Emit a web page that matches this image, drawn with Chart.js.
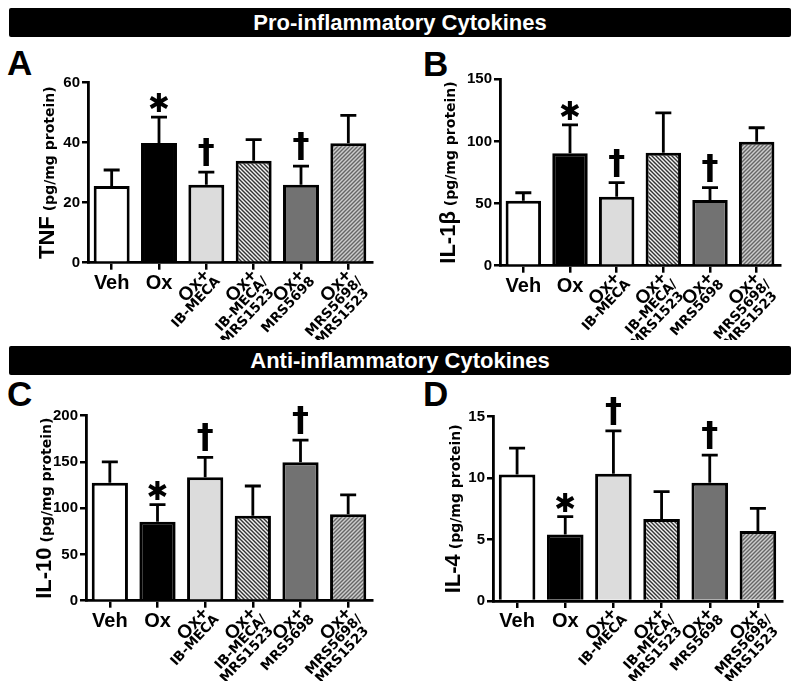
<!DOCTYPE html>
<html>
<head>
<meta charset="utf-8">
<script src="https://cdn.jsdelivr.net/npm/chart.js@4.4.0/dist/chart.umd.min.js"></script>
<style>
  body { margin: 0; background: #fff; width: 800px; height: 681px; position: relative; overflow: hidden;
         font-family: "Liberation Sans", Arial, sans-serif; }
  .band { position: absolute; left: 9px; width: 782px; height: 29px; background: #000; color: #fff;
          font-weight: bold; font-size: 22px; line-height: 29px; text-align: center; border-radius: 2px; }
  .letter { position: absolute; font-weight: bold; font-size: 35px; line-height: 34px; }
  canvas { position: absolute; }
</style>
</head>
<body>
<div class="band" style="top:8px">Pro-inflammatory Cytokines</div>
<div class="band" style="top:346px">Anti-inflammatory Cytokines</div>
<div class="letter" style="left:7px;top:46px">A</div>
<div class="letter" style="left:423px;top:47px">B</div>
<div class="letter" style="left:7px;top:377px">C</div>
<div class="letter" style="left:423px;top:377px">D</div>
<canvas id="cA" width="400" height="300" style="left:0;top:40px"></canvas>
<canvas id="cB" width="400" height="300" style="left:400px;top:40px"></canvas>
<canvas id="cC" width="400" height="306" style="left:0;top:375px"></canvas>
<canvas id="cD" width="400" height="306" style="left:400px;top:375px"></canvas>
<script>
// groups
const groupLabels = ["Veh", "Ox", "Ox+", "Ox+", "Ox+", "Ox+"];
const groupSubLabels = [[], [], ["IB-MECA"], ["IB-MECA/", "MRS1523"], ["MRS5698"], ["MRS5698/", "MRS1523"]];

// TNF
const tnfMean = [25.6, 39.9, 26.0, 34.0, 26.0, 39.8];
const tnfSem = [5.3, 8.6, 4.2, 7.0, 6.2, 9.3];
const tnfSig = ["", "*", "†", "", "†", ""];
const tnfTicks = [0, 20, 40, 60];

// IL-1b
const il1bMean = [52.3, 90.4, 55.5, 90.9, 52.9, 99.8];
const il1bSem = [6.4, 23.0, 11.3, 32.1, 9.9, 11.2];
const il1bSig = ["", "*", "†", "", "†", ""];
const il1bTicks = [0, 50, 100, 150];

// IL-10
const il10Mean = [127.6, 85.4, 133.4, 91.9, 149.6, 93.4];
const il10Sem = [22.4, 18.4, 21.6, 32.1, 24.1, 20.9];
const il10Sig = ["", "*", "†", "", "†", ""];
const il10Ticks = [0, 50, 100, 150, 200];

// IL-4
const il4Mean = [10.3, 5.42, 10.36, 6.67, 9.63, 5.7];
const il4Sem = [2.15, 1.44, 3.49, 2.23, 2.25, 1.84];
const il4Sig = ["", "*", "†", "", "†", ""];
const il4Ticks = [0, 5, 10, 15];

const unitText = "(pg/mg protein)";
const SANS = '"Liberation Sans", Arial, sans-serif';
const DEJA = '"DejaVu Sans", sans-serif';

function makeHatch(bg, fg, slash) {
  const c = document.createElement('canvas');
  c.width = 4; c.height = 4;
  const g = c.getContext('2d');
  g.fillStyle = bg;
  g.fillRect(0, 0, 4, 4);
  g.strokeStyle = fg;
  g.lineWidth = 1.4;
  g.beginPath();
  if (slash) {
    g.moveTo(-1, 5); g.lineTo(5, -1);
    g.moveTo(-1, 1); g.lineTo(1, -1);
    g.moveTo(3, 5); g.lineTo(5, 3);
  } else {
    g.moveTo(-1, -1); g.lineTo(5, 5);
    g.moveTo(3, -1); g.lineTo(5, 1);
    g.moveTo(-1, 3); g.lineTo(1, 5);
  }
  g.stroke();
  return g.createPattern(c, 'repeat');
}

const fills = ["#ffffff", "#000000", "#dcdcdc", makeHatch("#f2f2f2", "#333333", false),
               "#727272", makeHatch("#cccccc", "#666666", true)];

function makePanel(p) {
  const canvas = document.getElementById(p.id);
  const H = canvas.height;

  const decor = {
    id: 'decor',
    afterDatasetsDraw(chart) {
      const xs = chart.scales.x, ys = chart.scales.y, ctx = chart.ctx;
      ctx.save();
      ctx.strokeStyle = '#000';
      ctx.fillStyle = '#000';
      ctx.lineWidth = 2.8;
      p.mean.forEach((m, i) => {
        const x = xs.getPixelForValue(i);
        const y0 = ys.getPixelForValue(m);
        const y1 = ys.getPixelForValue(m + p.sem[i]);
        ctx.beginPath();
        ctx.moveTo(x, y0); ctx.lineTo(x, y1);
        ctx.moveTo(x - 8, y1); ctx.lineTo(x + 8, y1);
        ctx.stroke();
        const s = p.sig[i];
        if (s) {
          const sym = s === "*" ? "✱" : "†";
          ctx.font = s === "*" ? '26px ' + DEJA : 'bold 34px ' + DEJA;
          ctx.textAlign = 'center';
          ctx.textBaseline = 'alphabetic';
          const mt = ctx.measureText(sym);
          ctx.fillText(sym, x, y1 - (s === "*" ? 5 : 6) - mt.actualBoundingBoxDescent);
        }
      });
      ctx.restore();
    },
    afterDraw(chart) {
      const xs = chart.scales.x, ctx = chart.ctx, area = chart.chartArea;
      const axisY = area.bottom;
      ctx.save();
      ctx.fillStyle = '#000';
      groupLabels.forEach((lab, i) => {
        const x = xs.getPixelForValue(i);
        const subs = groupSubLabels[i];
        if (!subs.length) {
          ctx.font = 'bold 20px ' + SANS;
          ctx.textAlign = 'center';
          ctx.textBaseline = 'alphabetic';
          ctx.fillText(lab, x, axisY + 26);
        } else {
          ctx.save();
          ctx.translate(x - 6, axisY + 4);
          ctx.rotate(-47 * Math.PI / 180);
          ctx.textAlign = 'right';
          ctx.textBaseline = 'alphabetic';
          ctx.font = 'bold 19px ' + SANS;
          ctx.fillText(lab, 0, 14);
          ctx.font = 'bold 13.5px ' + DEJA;
          subs.forEach((s, k) => ctx.fillText(s, k ? -1 : 3, 25 + k * 13));
          ctx.restore();
        }
      });
      // y axis title
      ctx.translate(p.titleX, (area.top + area.bottom) / 2);
      ctx.rotate(-Math.PI / 2);
      ctx.textAlign = 'left';
      ctx.textBaseline = 'alphabetic';
      ctx.font = 'bold 22px ' + SANS;
      const w1 = ctx.measureText(p.title).width;
      ctx.font = 'bold 14px ' + DEJA;
      const w2 = ctx.measureText(unitText).width;
      const gap = 5;
      const start = -(w1 + gap + w2) / 2;
      ctx.font = 'bold 22px ' + SANS;
      ctx.fillText(p.title, start, 0);
      ctx.font = 'bold 14px ' + DEJA;
      ctx.fillText(unitText, start + w1 + gap, 0);
      ctx.restore();
    }
  };

  return new Chart(canvas, {
    type: 'bar',
    data: {
      labels: groupLabels,
      datasets: [{
        data: p.mean,
        backgroundColor: fills,
        borderColor: '#000',
        borderWidth: 3,
        borderSkipped: 'start',
        barPercentage: 0.76,
        categoryPercentage: 1
      }]
    },
    options: {
      responsive: false,
      animation: false,
      layout: { padding: { left: 0, top: p.top, right: p.right, bottom: 0 } },
      plugins: { legend: { display: false }, tooltip: { enabled: false } },
      scales: {
        x: {
          z: 1,
          grid: { display: true, drawOnChartArea: false, drawTicks: true, tickLength: 7,
                  color: '#000', lineWidth: 2.5, offset: false },
          border: { display: true, color: '#000', width: 2.8 },
          ticks: { display: false },
          afterFit(s) { s.height = H - p.bottom; }
        },
        y: {
          z: 1,
          min: p.ticks[0],
          max: p.ticks[p.ticks.length - 1],
          afterBuildTicks(s) { s.ticks = p.ticks.map(v => ({ value: v })); },
          grid: { display: true, drawOnChartArea: false, drawTicks: true, tickLength: 6,
                  color: '#000', lineWidth: 2.5 },
          border: { display: true, color: '#000', width: 2.8 },
          ticks: { color: '#000', padding: 2, font: { family: SANS, weight: 'bold', size: 15 } },
          afterFit(s) { s.width = p.left; }
        }
      }
    },
    plugins: [decor]
  });
}

makePanel({ id: 'cA', title: 'TNF', mean: tnfMean, sem: tnfSem, sig: tnfSig, ticks: tnfTicks,
            left: 88, right: 28, top: 42.7, bottom: 222.7, titleX: 54 });
makePanel({ id: 'cB', title: 'IL-1β', mean: il1bMean, sem: il1bSem, sig: il1bSig, ticks: il1bTicks,
            left: 100, right: 20, top: 39.3, bottom: 225.7, titleX: 55 });
makePanel({ id: 'cC', title: 'IL-10', mean: il10Mean, sem: il10Sem, sig: il10Sig, ticks: il10Ticks,
            left: 86, right: 28, top: 40.7, bottom: 225.7, titleX: 51 });
makePanel({ id: 'cD', title: 'IL-4', mean: il4Mean, sem: il4Sem, sig: il4Sig, ticks: il4Ticks,
            left: 93, right: 18, top: 41.7, bottom: 226, titleX: 60 });
</script>
</body>
</html>
